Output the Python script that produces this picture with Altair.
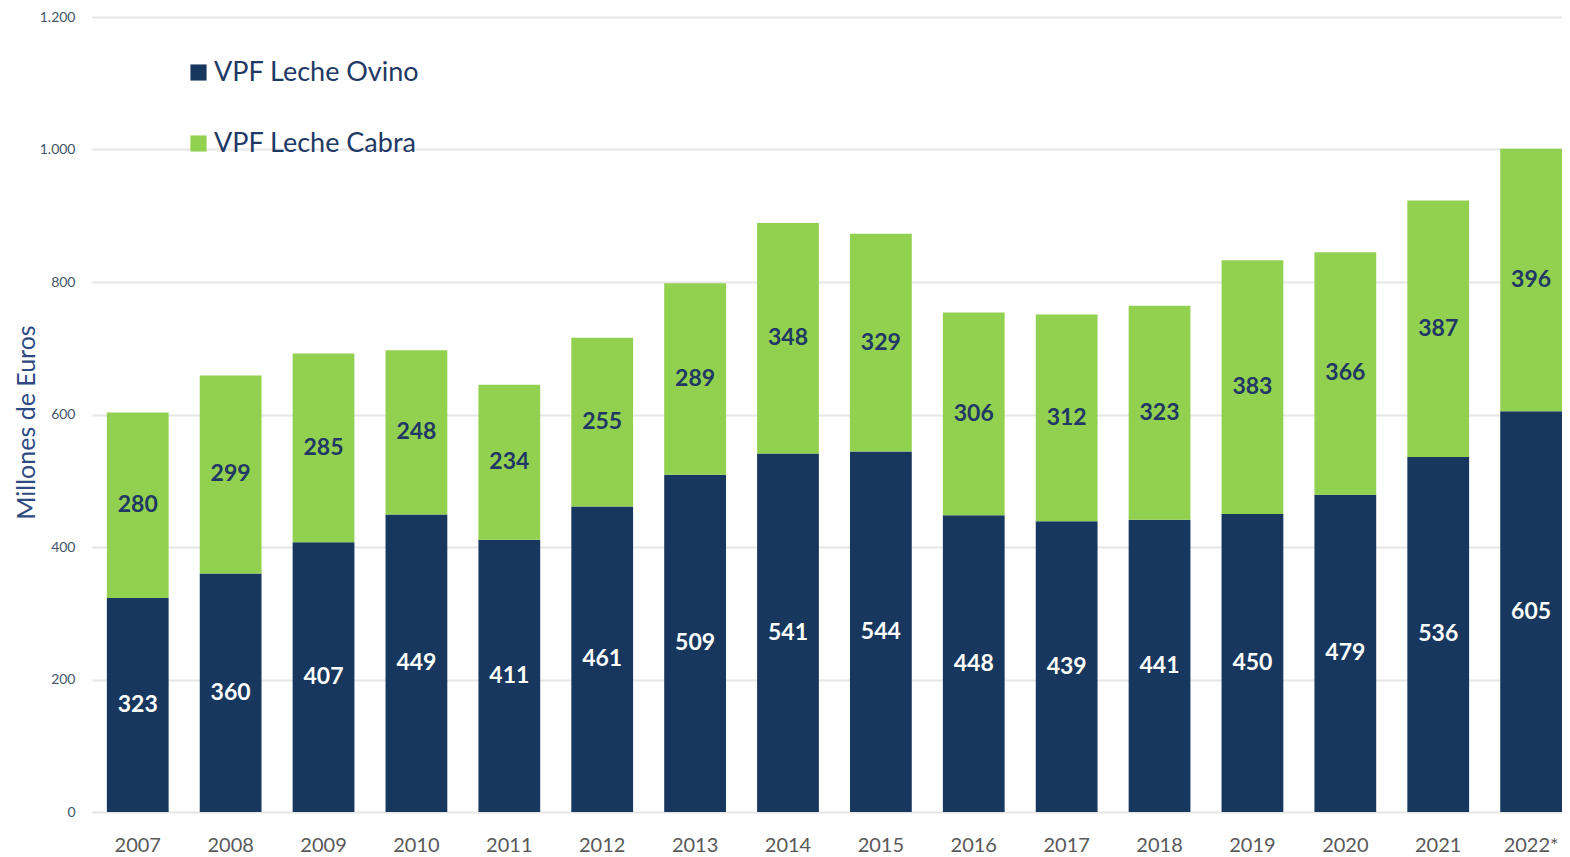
import altair as alt
import pandas as pd

years = ["2007", "2008", "2009", "2010", "2011", "2012", "2013", "2014",
         "2015", "2016", "2017", "2018", "2019", "2020", "2021", "2022*"]
ovino = [323, 360, 407, 449, 411, 461, 509, 541, 544, 448, 439, 441, 450, 479, 536, 605]
cabra = [280, 299, 285, 248, 234, 255, 289, 348, 329, 306, 312, 323, 383, 366, 387, 396]
series = ["VPF Leche Ovino", "VPF Leche Cabra"]
colors = ["#17375E", "#92D050"]
y_ticks = [0, 200, 400, 600, 800, 1000, 1200]

rows = []
for i, y in enumerate(years):
    rows.append({"year": y, "serie": series[0], "ord": 0, "value": ovino[i]})
    rows.append({"year": y, "serie": series[1], "ord": 1, "value": cabra[i]})
df = pd.DataFrame(rows)

FONT = "Lato"

x_enc = alt.X(
    "year:N",
    sort=years,
    scale=alt.Scale(paddingInner=0.335, paddingOuter=0.08, align=1),
    axis=alt.Axis(
        title=None, labelAngle=0, labelFont=FONT, labelFontSize=20,
        labelColor="#595959", labelPadding=23, ticks=False, domain=False,
    ),
)

base = alt.Chart(df).transform_stack(
    stack="value", groupby=["year"], as_=["v0", "v1"],
    sort=[alt.SortField("ord", order="ascending")],
).transform_calculate(mid="(datum.v0 + datum.v1) / 2")

bars = base.mark_bar().encode(
    x=x_enc,
    y=alt.Y(
        "v0:Q",
        scale=alt.Scale(domain=[0, 1200], nice=False),
        axis=alt.Axis(
            values=y_ticks, title="Millones de Euros", titleFont=FONT,
            titleFontSize=25, titleFontWeight="normal", titleColor="#2E4A82",
            titleX=-66, titleY=405, titleAngle=-90, titleAlign="center",
            titleBaseline="middle",
            labelFont=FONT, labelFontSize=14, labelColor="#44546A",
            labelPadding=17, ticks=False, domain=False,
            gridColor="#E6E6E6", gridWidth=2,
            labelExpr="replace(format(datum.value, ','), ',', '.')",
        ),
    ),
    y2="v1:Q",
    color=alt.Color(
        "serie:N",
        scale=alt.Scale(domain=series, range=colors),
        legend=alt.Legend(
            title=None, orient="none", legendX=93, legendY=42,
            direction="vertical", symbolType="square", symbolSize=260,
            symbolStrokeWidth=0, labelFont=FONT, labelFontSize=27,
            labelColor="#1F3864", rowPadding=43, labelOffset=2,
            labelLimit=0,
        ),
    ),
)

labels = base.mark_text(font=FONT, fontSize=23, fontWeight="bold").encode(
    x=alt.X("year:N", sort=years),
    y=alt.Y("mid:Q"),
    text=alt.Text("value:Q"),
    color=alt.condition(
        alt.datum.ord == 0, alt.value("#FFFFFF"), alt.value("#1F3864")
    ),
)

chart = alt.layer(bars, labels).properties(
    width=1470,
    height=795,
    autosize=alt.AutoSizeParams(type="none"),
    padding={"left": 84, "top": 9, "right": 0, "bottom": 43},
).configure_view(stroke=None).configure_axis(gridOpacity=1)

chart.save("out.html", embed_options={"renderer": "svg", "actions": False})
